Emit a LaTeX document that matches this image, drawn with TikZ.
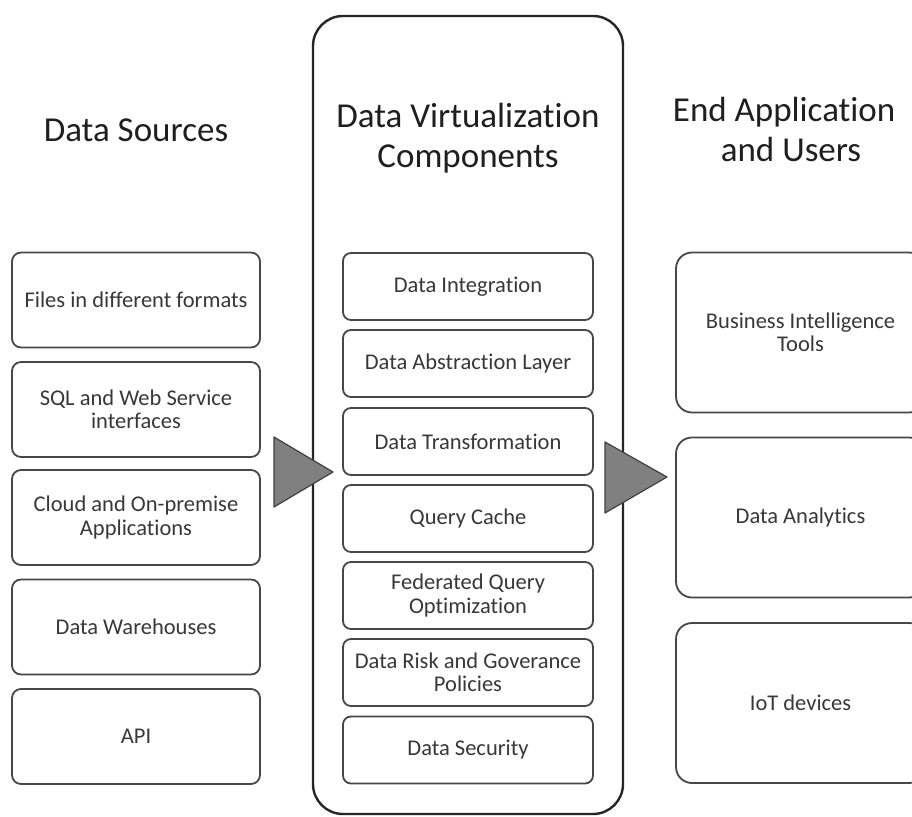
\documentclass[tikz,border=0pt]{standalone}
\usepackage{fontspec}
\setmainfont[Ligatures=NoCommon]{Carlito}
\begin{document}
\begin{tikzpicture}[x=1pt,y=-1pt,
  hdr/.style={font=\fontsize{35}{40}\selectfont, text=black!88, align=center, inner sep=0},
  srcbox/.style={draw=black!72, line width=1.8pt, rounded corners=9pt, minimum width=248pt, minimum height=95pt, inner sep=0, align=center, text=black!78, font=\fontsize{22.5}{23.5}\selectfont},
  compbox/.style={draw=black!72, line width=1.8pt, rounded corners=8pt, minimum width=250pt, minimum height=67pt, inner sep=0, align=center, text=black!78, font=\fontsize{22.5}{23.5}\selectfont},
  appbox/.style={draw=black!72, line width=1.8pt, rounded corners=16pt, minimum width=249pt, minimum height=160pt, inner sep=0, align=center, text=black!78, font=\fontsize{22.5}{23.5}\selectfont},
  flowtri/.style={fill=black!50, draw=black!75, line width=1.2pt, line join=round}
]
\useasboundingbox (0,0) rectangle (912,816);
\clip (0,0) rectangle (912,816);
\fill[white] (0,0) rectangle (912,816);

% container
\node[draw=black!85, line width=2.4pt, rounded corners=30pt, minimum width=310pt, minimum height=798pt, inner sep=0] (dvc) at (468,415) {};

% headers
\node[hdr] (h1) at (136,130) {Data Sources};
\node[hdr] (h2) at (468,138) {Data Virtualization\\Components};
\node[hdr] (h3) at (791,129) {End Application\phantom{s}\\and Users};

% data sources
\node[srcbox] (s1) at (136,300) {Files in different formats};
\node[srcbox] (s2) at (136,409.5) {SQL and Web Service\\interfaces};
\node[srcbox] (s3) at (136,517.5) {Cloud and On-premise\\Applications};
\node[srcbox] (s4) at (136,627) {Data Warehouses};
\node[srcbox] (s5) at (136,736.5) {API};

% components
\node[compbox] (c1) at (468,286.5) {Data Integration};
\node[compbox] (c2) at (468,363.5) {Data Abstraction Layer};
\node[compbox] (c3) at (468,441.5) {Data Transformation};
\node[compbox] (c4) at (468,518.5) {Query Cache};
\node[compbox] (c5) at (468,595.5) {Federated Query\\Optimization};
\node[compbox] (c6) at (468,672.5) {Data Risk and Goverance\\Policies};
\node[compbox] (c7) at (468,750) {Data Security};

% applications
\node[appbox] (a1) at (800.5,332.5) {Business Intelligence\\Tools};
\node[appbox] (a2) at (800.5,517.5) {Data Analytics};
\node[appbox] (a3) at (800.5,703) {IoT devices};

% flow triangles
\coordinate (t1a) at (274,437);
\coordinate (t1b) at (274,507);
\coordinate (t1c) at (333,472);
\draw[flowtri] (t1a) -- (t1c) -- (t1b) -- cycle;
\coordinate (t2a) at (605,442);
\coordinate (t2b) at (605,513);
\coordinate (t2c) at (667,477);
\draw[flowtri] (t2a) -- (t2c) -- (t2b) -- cycle;
\end{tikzpicture}
\end{document}
